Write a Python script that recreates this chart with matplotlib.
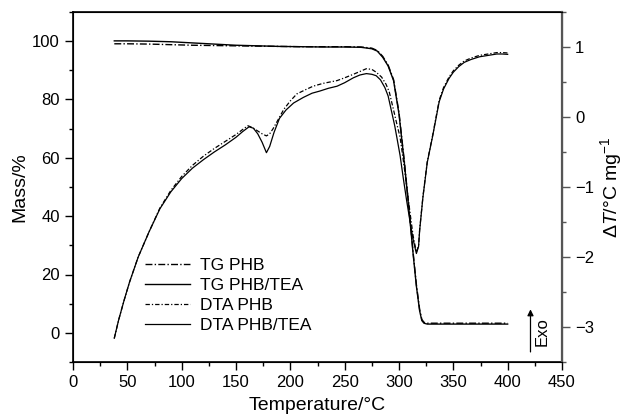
import numpy as np
import matplotlib
matplotlib.use('Agg')
import matplotlib.pyplot as plt
from matplotlib.ticker import MultipleLocator

plt.rcParams['font.family'] = ['Liberation Sans', 'DejaVu Sans']
plt.rcParams['mathtext.fontset'] = 'custom'
plt.rcParams['mathtext.rm'] = 'Liberation Sans'
plt.rcParams['mathtext.it'] = 'Liberation Sans:italic'

# TG curves (mass, %) - left axis
tgT      = [38, 50, 70, 90, 110, 130, 150, 170, 190, 210, 230, 250, 265, 275, 280,
            285, 290, 295, 300, 305, 310, 313, 316, 319, 321, 323, 326, 350, 375, 400]
tgPHB    = [99.1, 99.1, 99.0, 98.8, 98.6, 98.5, 98.4, 98.3, 98.2, 98.1, 98.1, 98.1, 98.0, 97.6, 96.8,
            94.8, 91.8, 86.8, 75.5, 58.5, 39.5, 27.5, 16.5, 8.0, 4.6, 3.6, 3.3, 3.3, 3.3, 3.3]
tgPHBTEA = [100.1, 100.1, 100.0, 99.8, 99.4, 99.0, 98.6, 98.4, 98.2, 98.1, 98.0, 98.0, 97.9, 97.4, 96.6,
            94.5, 91.5, 86.5, 75.0, 58.0, 39.0, 27.0, 16.0, 7.5, 4.2, 3.3, 3.0, 3.0, 3.0, 3.0]

# DTA curves (deltaT / C mg-1) - right axis
dtaT_TEA = [38, 42, 47, 52, 60, 70, 80, 90, 100, 110, 120, 130, 140, 150, 156, 162,
            166, 170, 174, 178, 181, 185, 190, 196, 203, 212, 220, 227, 235, 243, 250, 258,
            264, 270, 275, 279, 283, 287, 290, 293, 296, 298, 301, 304, 307, 310, 313, 316,
            318, 319, 322, 326, 331, 337, 341, 346, 350, 355, 360, 366, 374, 382, 390, 395, 400]
dtaTEA   = [-3.16, -2.90, -2.62, -2.36, -2.00, -1.64, -1.31, -1.07, -0.88, -0.73, -0.61,
            -0.50, -0.40, -0.29, -0.21, -0.14, -0.16, -0.24, -0.36, -0.51, -0.42, -0.22, -0.02,
            0.10, 0.20, 0.28, 0.34, 0.37, 0.41, 0.44, 0.49, 0.56, 0.60, 0.62, 0.61, 0.59, 0.53,
            0.42, 0.30, 0.09, -0.12, -0.29, -0.55, -0.88, -1.19, -1.48, -1.75, -1.95,
            -1.85, -1.62, -1.15, -0.65, -0.27, 0.22, 0.40, 0.55, 0.64, 0.72, 0.78, 0.82, 0.86,
            0.88, 0.90, 0.90, 0.895]

dtaT_PHB = [38, 42, 47, 52, 60, 70, 80, 90, 100, 110, 120, 130, 140, 150, 156, 161,
            165, 170, 174, 178, 181, 184, 188, 194, 200, 206, 214, 221, 230, 243, 250, 258,
            264, 270, 275, 279, 284, 288, 291, 295, 298, 301, 304, 307, 310, 313, 316,
            318, 319, 322, 326, 331, 337, 341, 346, 350, 355, 360, 366, 374, 382, 390, 395, 400]
dtaPHB   = [-3.16, -2.90, -2.62, -2.36, -2.00, -1.64, -1.30, -1.05, -0.85, -0.69, -0.56,
            -0.45, -0.35, -0.25, -0.18, -0.125, -0.15, -0.20, -0.24, -0.27, -0.24, -0.17, -0.06,
            0.11, 0.23, 0.33, 0.39, 0.44, 0.48, 0.52, 0.56, 0.61, 0.65, 0.69, 0.68, 0.64, 0.57,
            0.47, 0.36, 0.10, -0.10, -0.29, -0.62, -0.98, -1.35, -1.70, -1.93,
            -1.84, -1.61, -1.14, -0.64, -0.26, 0.24, 0.42, 0.57, 0.66, 0.74, 0.80, 0.84, 0.88,
            0.90, 0.92, 0.92, 0.915]

fs = 12

fig = plt.figure(figsize=(6.25, 4.18), dpi=100)
ax = fig.add_axes([73/625, 1-362/418, 489/625, 350/418])
ax2 = ax.twinx()

l1, = ax.plot(tgT, tgPHB, color='black', lw=1.0, dashes=(5, 1.6, 1, 1.6))
l2, = ax.plot(tgT, tgPHBTEA, color='black', lw=1.0)
l3, = ax2.plot(dtaT_PHB, dtaPHB, color='black', lw=0.9, dashes=(3.5, 1.6, 1, 1.6))
l4, = ax2.plot(dtaT_TEA, dtaTEA, color='black', lw=0.9)

ax.set_xlim(0, 450)
ax.set_ylim(-10, 110)
ax2.set_ylim(-3.5, 1.5)

ax.xaxis.set_major_locator(MultipleLocator(50))
ax.xaxis.set_minor_locator(MultipleLocator(25))
ax.yaxis.set_major_locator(MultipleLocator(20))
ax.yaxis.set_minor_locator(MultipleLocator(10))
ax2.yaxis.set_major_locator(MultipleLocator(1))
ax2.yaxis.set_minor_locator(MultipleLocator(0.5))

ax.tick_params(axis='both', which='major', direction='out', length=6, width=1.0,
               labelsize=fs, top=False)
ax.tick_params(axis='both', which='minor', direction='out', length=3, width=1.0, top=False)
ax2.tick_params(axis='y', which='major', direction='out', length=6, width=1.0,
                labelsize=fs, color='#555555')
ax2.tick_params(axis='y', which='minor', direction='out', length=3, width=1.0, color='#555555')

for s in ['left', 'bottom', 'top']:
    ax.spines[s].set_linewidth(1.2)
ax2.spines['right'].set_color('#555555')
ax2.spines['right'].set_linewidth(1.6)

ax.set_xlabel('Temperature/\u00b0C', fontsize=14, labelpad=5)
ax.set_ylabel('Mass/%', fontsize=14, labelpad=3)
ax2.set_ylabel('\u0394$T$/\u00b0C mg$^{\u22121}$', fontsize=14, labelpad=3)

ax.legend([l1, l2, l3, l4], ['TG PHB', 'TG PHB/TEA', 'DTA PHB', 'DTA PHB/TEA'],
          loc='upper left', bbox_to_anchor=(0.147, 0.298), frameon=False, fontsize=12.5,
          handlelength=2.6, handletextpad=0.6, labelspacing=0.28, borderpad=0,
          borderaxespad=0)

# Exo arrow
ax.annotate('', xy=(421, 9), xytext=(421, -7.5),
            arrowprops=dict(arrowstyle='-|>', color='black', lw=0.9, mutation_scale=9))
ax.text(432, 0.5, 'Exo', rotation=90, fontsize=fs, ha='center', va='center')

plt.savefig('out.png', dpi=100)
plt.close()
